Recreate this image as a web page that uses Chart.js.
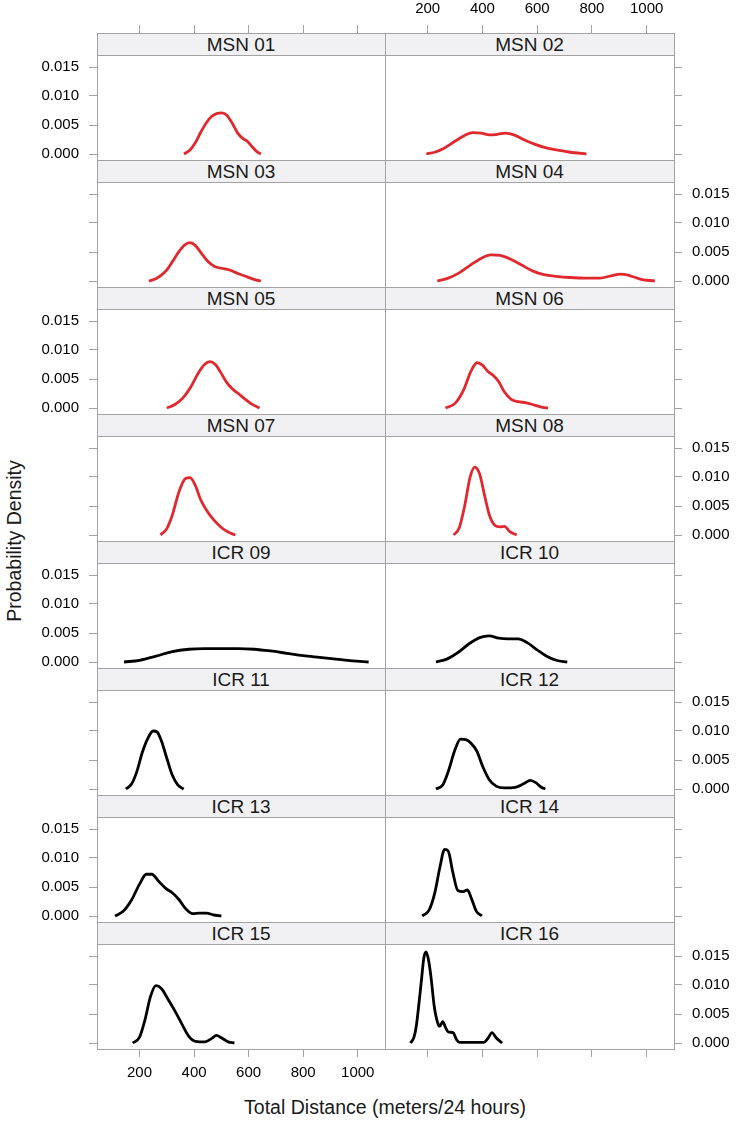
<!DOCTYPE html>
<html>
<head>
<meta charset="UTF-8">
<title>Total Distance density</title>
<script src="https://cdn.jsdelivr.net/npm/chart.js"></script>
<style>
  body { margin: 0; background: #fff; }
  #page { position: relative; width: 737px; height: 1124px; overflow: hidden; font-family: 'Liberation Sans', Arial, sans-serif; }
  .strip { position: absolute; box-sizing: border-box; background: #f1f1f3; border-bottom: 1px solid #a3a3a3;
           text-align: center; font-size: 19px; line-height: 23px; color: #1a1a1a; z-index: 0; }
  canvas { position: absolute; z-index: 1; }
  .axtitle { position: absolute; font-size: 19.5px; color: #1a1a1a; white-space: nowrap; }
</style>
</head>
<body>
<div id="page">
  <div class="axtitle" id="ytitle">Probability Density</div>
  <div class="axtitle" id="xtitle">Total Distance (meters/24 hours)</div>
</div>
<script>
// panels, left to right, top to bottom
const panelNames = ['MSN 01', 'MSN 02', 'MSN 03', 'MSN 04', 'MSN 05', 'MSN 06', 'MSN 07', 'MSN 08',
                    'ICR 09', 'ICR 10', 'ICR 11', 'ICR 12', 'ICR 13', 'ICR 14', 'ICR 15', 'ICR 16'];
const xTicks = [200, 400, 600, 800, 1000];
const yTicks = [0, 0.005, 0.010, 0.015];

// density curves: [distance, density]
const msn01 = [[363,0],[385,0.0007],[405,0.0020],[425,0.0038],[445,0.0054],[465,0.0065],[485,0.0070],[502,0.0071],[520,0.0067],[540,0.0053],[560,0.0036],[578,0.0027],[595,0.0022],[612,0.0013],[630,0.0004],[645,0]];
const msn02 = [[195,0],[225,0.0003],[260,0.0010],[300,0.0022],[335,0.0032],[365,0.0037],[395,0.0036],[425,0.0033],[455,0.0034],[485,0.0036],[515,0.0033],[550,0.0025],[590,0.0017],[630,0.0011],[670,0.0007],[720,0.0003],[780,0]];
const msn03 = [[234,0],[260,0.0004],[280,0.0010],[300,0.0019],[320,0.0033],[345,0.0051],[365,0.0062],[385,0.0066],[405,0.0061],[425,0.0049],[450,0.0034],[475,0.0025],[500,0.0022],[530,0.0019],[560,0.0013],[595,0.0007],[625,0.0002],[645,0]];
const msn04 = [[235,0],[275,0.0005],[315,0.0014],[355,0.0027],[395,0.0039],[430,0.0045],[465,0.0044],[505,0.0037],[545,0.0027],[585,0.0017],[625,0.0011],[670,0.0008],[720,0.0006],[780,0.0005],[830,0.0005],[870,0.0009],[905,0.0012],[940,0.0009],[980,0.0003],[1030,0]];
const msn05 = [[300,0],[330,0.0006],[360,0.0018],[390,0.0038],[415,0.0060],[438,0.0075],[458,0.0080],[478,0.0075],[498,0.0061],[518,0.0045],[540,0.0033],[562,0.0025],[585,0.0016],[610,0.0007],[640,0]];
const msn06 = [[265,0],[300,0.0008],[330,0.0030],[358,0.0063],[380,0.0078],[400,0.0074],[420,0.0063],[440,0.0056],[460,0.0045],[480,0.0028],[505,0.0015],[530,0.0011],[560,0.0009],[590,0.0005],[620,0.0001],[640,0]];
const msn07 = [[277,0],[300,0.0011],[320,0.0034],[345,0.0075],[368,0.0097],[385,0.0099],[405,0.0085],[423,0.0062],[445,0.0043],[472,0.0026],[500,0.0013],[525,0.0005],[551,0]];
const msn08 = [[295,0],[315,0.0012],[335,0.0050],[355,0.0100],[372,0.0117],[390,0.0105],[408,0.0068],[425,0.0035],[445,0.0017],[465,0.0014],[480,0.0015],[500,0.0006],[525,0]];
const icr09 = [[143,0],[200,0.0003],[260,0.0010],[320,0.0018],[380,0.0022],[440,0.0023],[500,0.0023],[560,0.0023],[620,0.0022],[680,0.0019],[740,0.0015],[800,0.0011],[860,0.0008],[920,0.0005],[980,0.0002],[1040,0]];
const icr10 = [[230,0],[270,0.0005],[310,0.0016],[350,0.0031],[390,0.0042],[425,0.0045],[460,0.0041],[495,0.0040],[530,0.0040],[565,0.0033],[600,0.0021],[635,0.0010],[670,0.0003],[710,0]];
const icr11 = [[150,0],[170,0.0008],[190,0.0030],[210,0.0063],[230,0.0087],[250,0.0100],[265,0.0098],[280,0.0083],[300,0.0053],[320,0.0024],[340,0.0007],[362,0]];
const icr12 = [[230,0],[255,0.0007],[275,0.0030],[300,0.0068],[320,0.0086],[340,0.0085],[360,0.0078],[380,0.0065],[400,0.0040],[425,0.0016],[450,0.0005],[480,0.0002],[520,0.0003],[550,0.0009],[575,0.0015],[595,0.0011],[615,0.0003],[630,0]];
const icr13 = [[110,0],[140,0.0008],[170,0.0027],[200,0.0055],[225,0.0072],[245,0.0072],[270,0.0060],[295,0.0048],[320,0.0040],[345,0.0028],[370,0.0012],[395,0.0004],[420,0.0005],[445,0.0005],[470,0.0002],[500,0]];
const icr14 = [[180,0],[205,0.0010],[225,0.0038],[245,0.0085],[262,0.0115],[275,0.0112],[292,0.0075],[310,0.0044],[330,0.0042],[345,0.0045],[360,0.0030],[378,0.0008],[398,0]];
const icr15 = [[175,0],[200,0.0010],[220,0.0040],[240,0.0080],[260,0.0099],[280,0.0094],[305,0.0075],[330,0.0055],[355,0.0033],[380,0.0012],[405,0.0003],[440,0.0002],[465,0.0008],[482,0.0013],[500,0.0009],[525,0.0002],[548,0]];
const icr16 = [[137,0],[150,0.0010],[158,0.0028],[168,0.0068],[176,0.0103],[186,0.0147],[194,0.0157],[203,0.0143],[212,0.0114],[224,0.0063],[237,0.0034],[244,0.0029],[255,0.0037],[265,0.0027],[275,0.0019],[293,0.0018],[305,0.0006],[317,0.0001],[405,0.0001],[420,0.0008],[435,0.0018],[450,0.0009],[472,0]];

const curves = [msn01, msn02, msn03, msn04, msn05, msn06, msn07, msn08,
                icr09, icr10, icr11, icr12, icr13, icr14, icr15, icr16];

// layout of the lattice
const colLeft = [97, 385], colWidth = [288, 289];
const rowTop = 33, rowH = 127, stripH = 23;
const ML = 75, MR = 75, MT = 40, MB = 40;
const X_MIN = 44, X_MAX = 1100;
const Y_PX = 5800;                 // pixels per density unit
const Y_MIN = -6 / Y_PX, Y_MAX = 121 / Y_PX;

const frame = '#a3a3a3';
const tickFont = { family: "'Liberation Sans', Arial, sans-serif", size: 15 };

const page = document.getElementById('page');

function axis(kind, position, marks, labels, size) {
  const horiz = kind === 'x';
  return {
    axis: kind,
    type: 'linear',
    position: position,
    min: horiz ? X_MIN : Y_MIN,
    max: horiz ? X_MAX : Y_MAX,
    afterBuildTicks: s => { s.ticks = (horiz ? xTicks : yTicks).map(v => ({ value: v })); },
    afterFit: s => { if (horiz) s.height = size; else s.width = size; },
    grid: { display: marks, drawOnChartArea: false, drawTicks: true, tickLength: 8, color: frame, lineWidth: 1 },
    border: { display: true, color: frame, width: 1 },
    ticks: {
      display: labels,
      color: '#000',
      font: tickFont,
      padding: horiz ? 7 : 10,
      maxRotation: 0,
      callback: v => horiz ? String(v) : v.toFixed(3)
    }
  };
}

panelNames.forEach((name, i) => {
  const col = i % 2, row = Math.floor(i / 2);
  const L = colLeft[col], W = colWidth[col], T = rowTop + row * rowH, H = rowH;
  const red = i < 8;

  const strip = document.createElement('div');
  strip.className = 'strip';
  strip.style.left = L + 'px';
  strip.style.top = T + 'px';
  strip.style.width = W + 'px';
  strip.style.height = stripH + 'px';
  strip.textContent = name;
  page.appendChild(strip);

  const cv = document.createElement('canvas');
  cv.width = W + ML + MR;
  cv.height = H + MT + MB;
  cv.style.left = (L - ML) + 'px';
  cv.style.top = (T - MT) + 'px';
  page.appendChild(cv);

  const leftSide = col === 0, rightSide = col === 1;
  new Chart(cv.getContext('2d'), {
    type: 'line',
    data: {
      datasets: [{
        data: curves[i].map(p => ({ x: p[0], y: p[1] })),
        borderColor: red ? '#e0282e' : '#000000',
        borderWidth: 2.8,
        pointRadius: 0,
        fill: false,
        cubicInterpolationMode: 'monotone',
        xAxisID: 'x',
        yAxisID: 'y'
      }]
    },
    options: {
      responsive: false,
      animation: false,
      events: [],
      layout: { padding: 0, autoPadding: false },
      plugins: { legend: { display: false }, tooltip: { enabled: false }, title: { display: false } },
      scales: {
        x: axis('x', 'bottom', row === 7, row === 7 && leftSide, MB),
        xTop: axis('x', 'top', row === 0, row === 0 && rightSide, MT),
        y: axis('y', 'left', leftSide, leftSide && row % 2 === 0, ML),
        yRight: axis('y', 'right', rightSide, rightSide && row % 2 === 1, MR)
      }
    }
  });
});

// axis titles
const yt = document.getElementById('ytitle');
yt.style.left = '14px';
yt.style.top = '541px';
yt.style.transform = 'translate(-50%, -50%) rotate(-90deg)';
const xt = document.getElementById('xtitle');
xt.style.left = '385px';
xt.style.top = '1107px';
xt.style.transform = 'translate(-50%, -50%)';
</script>
</body>
</html>
